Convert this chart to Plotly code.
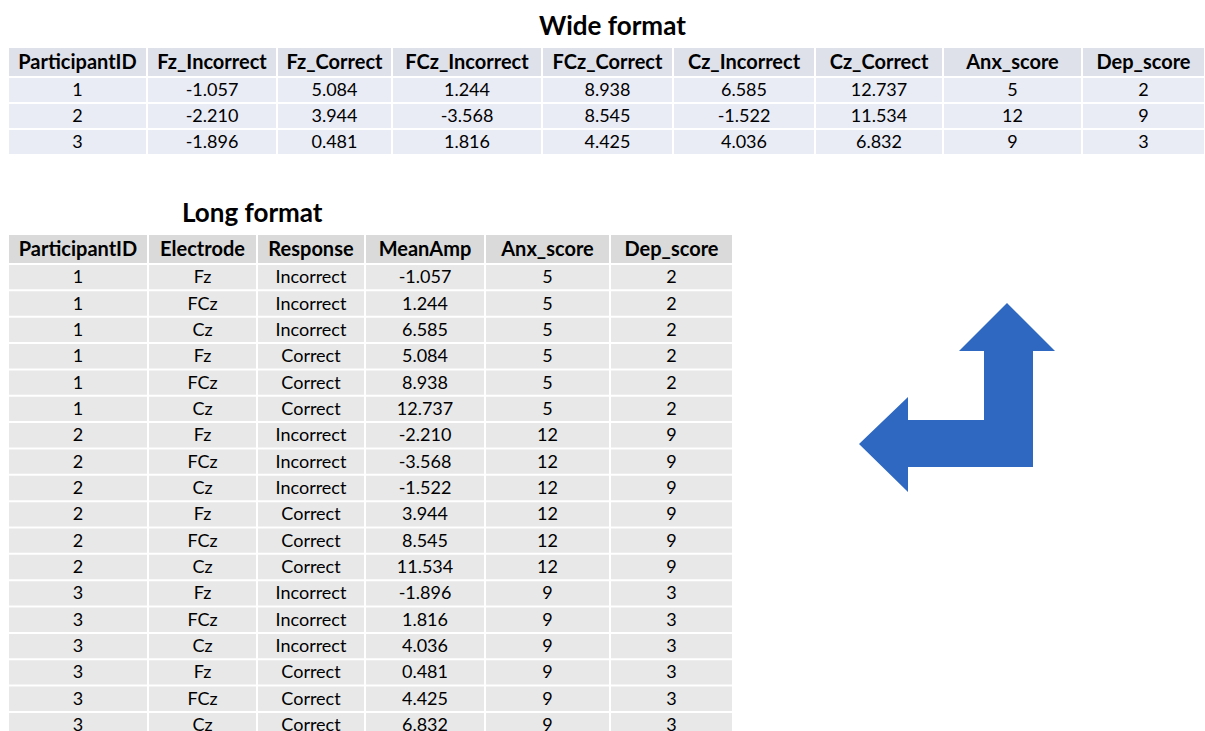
import plotly.graph_objects as go
import pandas as pd

# ---------------- data ----------------
participant_ids = [1, 2, 3]
fz_incorrect = [-1.057, -2.210, -1.896]
fz_correct = [5.084, 3.944, 0.481]
fcz_incorrect = [1.244, -3.568, 1.816]
fcz_correct = [8.938, 8.545, 4.425]
cz_incorrect = [6.585, -1.522, 4.036]
cz_correct = [12.737, 11.534, 6.832]
anx_score = [5, 12, 9]
dep_score = [2, 9, 3]

electrodes = ["Fz", "FCz", "Cz"]
responses = ["Incorrect", "Correct"]

wide_headers = ["ParticipantID", "Fz_Incorrect", "Fz_Correct", "FCz_Incorrect",
                "FCz_Correct", "Cz_Incorrect", "Cz_Correct", "Anx_score", "Dep_score"]
long_headers = ["ParticipantID", "Electrode", "Response", "MeanAmp", "Anx_score", "Dep_score"]

# ---------------- build tables ----------------
wide = pd.DataFrame({
    "ParticipantID": participant_ids,
    "Fz_Incorrect": fz_incorrect, "Fz_Correct": fz_correct,
    "FCz_Incorrect": fcz_incorrect, "FCz_Correct": fcz_correct,
    "Cz_Incorrect": cz_incorrect, "Cz_Correct": cz_correct,
    "Anx_score": anx_score, "Dep_score": dep_score,
})

rows = []
for i, pid in enumerate(participant_ids):
    for resp in responses:
        for el in electrodes:
            rows.append({
                "ParticipantID": pid, "Electrode": el, "Response": resp,
                "MeanAmp": wide.loc[i, f"{el}_{resp}"],
                "Anx_score": anx_score[i], "Dep_score": dep_score[i],
            })
long = pd.DataFrame(rows)

FLOAT_COLS = {"Fz_Incorrect", "Fz_Correct", "FCz_Incorrect", "FCz_Correct",
              "Cz_Incorrect", "Cz_Correct", "MeanAmp"}


def fmt(col, vals):
    if col in FLOAT_COLS:
        return [f"{v:.3f}" for v in vals]
    return [str(v) for v in vals]


# ---------------- layout constants (pixels) ----------------
W, H = 1205, 731
FONT = "Lato"
TEXT_DY = 1.5

WIDE = dict(left=8, widths=[139, 130, 115, 150, 131, 142, 128, 139, 123],
            top=48, head_h=29, row_h=26,
            head_fill="#dfe1ea", row_fill="#e9ebf5")
LONG = dict(left=8, widths=[140, 109, 108, 120, 125, 123],
            top=235, head_h=29, row_h=26.35,
            head_fill="#dadada", row_fill="#e8e8e8")

fig = go.Figure()
shapes = []


def draw_table(df, headers, g):
    edges = [g["left"]]
    for w in g["widths"]:
        edges.append(edges[-1] + w)
    n = len(df)
    # header cells
    for j in range(len(headers)):
        shapes.append(dict(type="rect", xref="x", yref="y",
                           x0=edges[j] + 1, x1=edges[j + 1] - 1,
                           y0=g["top"], y1=g["top"] + g["head_h"] - 1,
                           fillcolor=g["head_fill"], line=dict(width=0), layer="below"))
    # body cells
    for i in range(n):
        y0 = g["top"] + g["head_h"] + i * g["row_h"]
        for j in range(len(headers)):
            shapes.append(dict(type="rect", xref="x", yref="y",
                               x0=edges[j] + 1, x1=edges[j + 1] - 1,
                               y0=y0 + 1, y1=y0 + g["row_h"] - 1,
                               fillcolor=g["row_fill"], line=dict(width=0), layer="below"))
    centers = [(edges[j] + edges[j + 1]) / 2 for j in range(len(headers))]
    # header text
    fig.add_trace(go.Scatter(
        x=centers, y=[g["top"] + g["head_h"] / 2 + TEXT_DY] * len(headers),
        text=[f"<b>{h}</b>" for h in headers], mode="text",
        textposition="middle center",
        textfont=dict(family=FONT, size=20, color="black"),
        hoverinfo="skip", showlegend=False))
    # body text
    row_centers = [g["top"] + g["head_h"] + (i + 0.5) * g["row_h"] + TEXT_DY for i in range(n)]
    for j, col in enumerate(headers):
        fig.add_trace(go.Scatter(
            x=[centers[j]] * n, y=row_centers, text=fmt(col, df[col]), mode="text",
            textposition="middle center",
            textfont=dict(family=FONT, size=18, color="black"),
            hoverinfo="skip", showlegend=False))


draw_table(wide, wide_headers, WIDE)
draw_table(long, long_headers, LONG)

# arrow outline (pixel geometry)
arrow_x = [1007, 1055, 1033, 1033, 908, 908, 859, 908, 908, 984, 984, 959, 1007]
arrow_y = [303, 351, 351, 467, 467, 492, 444, 397, 420, 420, 351, 351, 303]
fig.add_trace(go.Scatter(x=arrow_x, y=arrow_y, fill="toself", mode="lines",
                         fillcolor="#2f68c0", line=dict(color="#2f68c0", width=0),
                         hoverinfo="skip", showlegend=False))

fig.update_xaxes(range=[0, W], visible=False, fixedrange=True)
fig.update_yaxes(range=[H, 0], visible=False, fixedrange=True)

fig.add_annotation(text="<b>Wide format</b>", x=612, y=25, xref="x", yref="y",
                   xanchor="center", yanchor="middle", showarrow=False,
                   font=dict(family=FONT, size=26, color="black"))
fig.add_annotation(text="<b>Long format</b>", x=252, y=212, xref="x", yref="y",
                   xanchor="center", yanchor="middle", showarrow=False,
                   font=dict(family=FONT, size=26, color="black"))

fig.update_layout(width=W, height=H, margin=dict(l=0, r=0, t=0, b=0),
                  paper_bgcolor="white", plot_bgcolor="white", showlegend=False,
                  shapes=shapes)

fig.write_html("out.html", config={"displayModeBar": False},
               post_script="document.body.style.margin='0px';document.body.style.overflow='hidden';")
